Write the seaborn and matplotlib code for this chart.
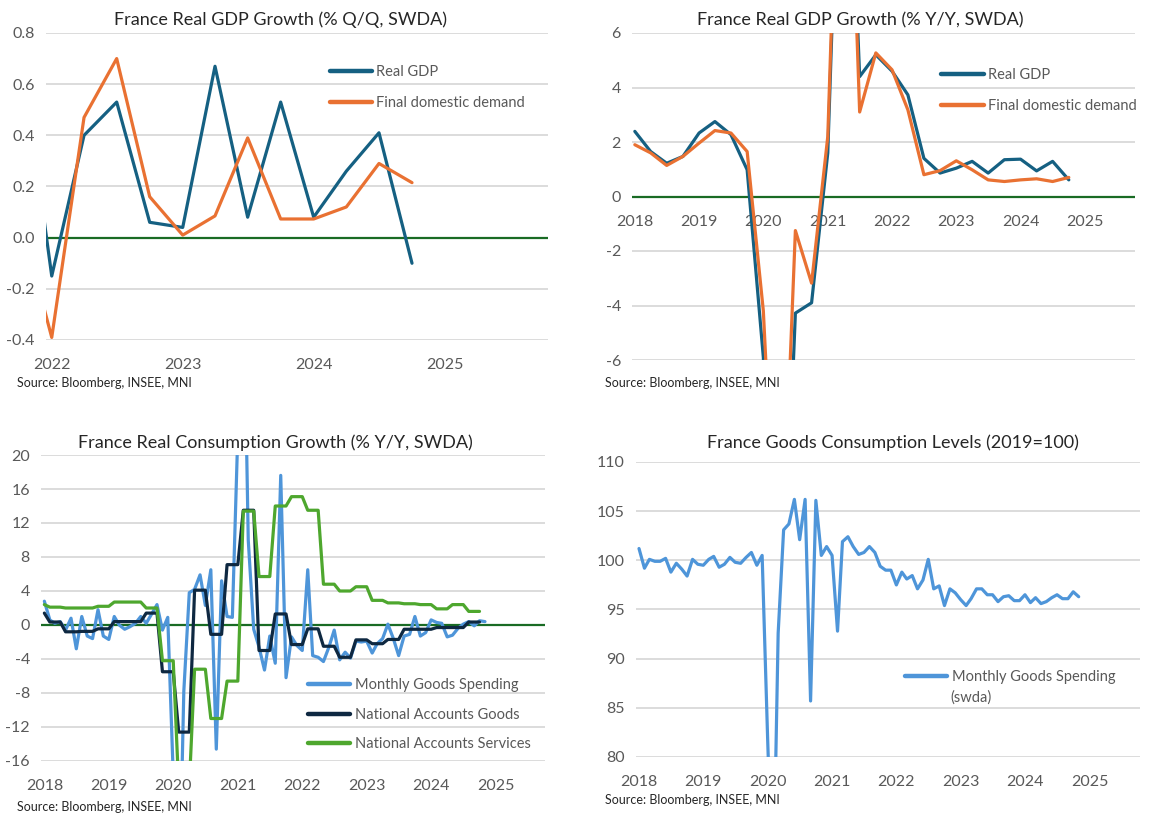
import pandas as pd
import numpy as np
import seaborn as sns
import matplotlib.pyplot as plt
import matplotlib.dates as mdates
from matplotlib.ticker import FuncFormatter

sns.set_theme(style="white")
plt.rcParams['font.family'] = ['Lato', 'DejaVu Sans']

# --- data ---
# Q/Q growth, quarters 2021Q4..2024Q4 (first point sits left of the axis)
qq_start = "2021-10-01"
gdp_qq = [0.80, -0.15, 0.40, 0.53, 0.06, 0.04, 0.67, 0.08, 0.53, 0.08, 0.26, 0.41, -0.10]
fdd_qq = [0.10, -0.39, 0.47, 0.70, 0.16, 0.01, 0.085, 0.39, 0.073, 0.073, 0.12, 0.29, 0.215]

# Y/Y growth, quarters 2018Q1..2024Q4
yy_start = "2018-01-01"
gdp_yy = [2.39, 1.65, 1.22, 1.47, 2.33, 2.75, 2.27, 0.98,
          -5.9, -18.6, -4.28, -3.9, 1.6, 19.0, 4.4, 5.2,
          4.6, 3.73, 1.4, 0.86, 1.04, 1.29, 0.86, 1.35,
          1.37, 0.94, 1.29, 0.61]
fdd_yy = [1.9, 1.6, 1.14, 1.47, 1.96, 2.42, 2.33, 1.65,
          -4.2, -16.0, -1.25, -3.18, 2.2, 20.0, 3.1, 5.27,
          4.65, 3.18, 0.8, 0.95, 1.31, 0.98, 0.61, 0.55,
          0.61, 0.65, 0.55, 0.70]

# monthly goods spending, Y/Y %
month_start = "2018-01-01"
goods_yy = [2.8, 0.6, 0.2, 0.4, -0.6, 0.8, -2.8, 1.0, -1.3, -1.6, 1.8, -1.3,
            -1.7, 1.0, 0.0, -0.5, -0.2, 0.2, 1.0, 0.2, 1.3, 2.4, -0.6, 0.9,
            -17.6, -35.0, -7.8, 3.8, 4.2, 5.9, 2.3, 6.5, -14.6, 5.2, 1.0, 0.9,
            22.6, 42.8, 10.0, -0.5, -2.6, -5.3, -1.3, -4.5, 17.6, -6.2, -1.4, -2.4,
            -3.0, 6.5, -3.6, -3.8, -4.3, -2.6, -0.6, -4.1, -3.2, -3.9, -1.9, -2.0,
            -1.9, -3.3, -2.2, -1.6, 0.1, -1.6, -3.6, -1.3, -1.1, 1.0, -1.3, -0.9,
            0.6, 0.3, 0.2, -1.4, -1.2, -0.4, 0.1, 0.4, -0.1, 0.5, 0.4]

# national accounts consumption Y/Y, quarterly 2018Q1..2024Q4 (shown as monthly steps)
na_goods_q = [1.4, 0.35, -0.8, -0.75, -0.45, 0.4, 0.4, 1.4,
              -5.5, -12.6, 4.1, -1.1, 7.1, 13.5, -3.0, 1.3,
              -2.3, -0.45, -2.5, -3.8, -1.75, -2.2, -1.7, -0.5,
              -0.5, -0.3, -0.3, 0.35]
na_serv_q = [2.4, 2.1, 2.0, 2.0, 2.2, 2.7, 2.7, 2.0,
             -4.2, -19.0, -5.2, -11.0, -6.6, 13.4, 5.7, 14.0,
             15.1, 13.5, 4.8, 4.0, 4.5, 2.9, 2.6, 2.5,
             2.4, 1.9, 2.4, 1.6]

# monthly goods consumption level, 2019=100
goods_lvl = [101.2, 99.2, 100.1, 99.9, 99.9, 100.2, 98.8, 99.7, 99.1, 98.4, 100.1, 99.6,
             99.5, 100.1, 100.4, 99.3, 99.6, 100.3, 99.8, 99.7, 100.3, 100.8, 99.5, 100.5,
             82.0, 65.0, 92.6, 103.1, 103.7, 106.2, 102.1, 106.2, 85.7, 106.1, 100.5, 101.4,
             100.5, 92.8, 101.9, 102.4, 101.4, 100.6, 100.8, 101.4, 100.8, 99.4, 99.0, 99.0,
             97.5, 98.8, 98.1, 98.45, 97.1, 98.0, 100.1, 97.1, 97.4, 95.4, 97.1, 96.7,
             96.0, 95.4, 96.1, 97.1, 97.1, 96.5, 96.5, 95.8, 96.3, 96.4, 95.9, 95.9,
             96.5, 95.7, 96.2, 95.6, 95.8, 96.2, 96.5, 96.1, 96.1, 96.8, 96.3]

SOURCE = "Source: Bloomberg, INSEE, MNI"
BLUE = "#156082"
ORANGE = "#E97132"
LIGHT = "#4E95D9"
NAVY = "#0E2841"
GREEN = "#4EA72E"
ZERO = "#196B24"
GREY = "#595959"
LW = 2.3

W, H = 1162, 815
fig = plt.figure(figsize=(W / 100, H / 100), dpi=100)


def add_axes(l, t, r, b):
    return fig.add_axes([l / W, 1 - b / H, (r - l) / W, (b - t) / H])


def style(ax, yticks, fmt, xstart, xend, years, legend_anchor, spacing):
    ax.set_ylim(yticks[0], yticks[-1])
    ax.set_yticks(yticks)
    ax.yaxis.set_major_formatter(FuncFormatter(fmt))
    ax.set_xlim(pd.Timestamp(xstart), pd.Timestamp(xend))
    ax.set_xticks([pd.Timestamp(f"{y}-01-01") for y in years])
    ax.xaxis.set_major_formatter(mdates.DateFormatter("%Y"))
    ax.grid(axis='y', color='#D9D9D9', lw=1.3)
    ax.grid(axis='x', visible=False)
    for s in ax.spines.values():
        s.set_visible(False)
    ax.tick_params(axis='both', length=0, labelsize=11.5, labelcolor=GREY)
    ax.tick_params(axis='x', pad=13)
    ax.tick_params(axis='y', pad=8)
    ax.set_xlabel("")
    ax.set_ylabel("")
    ax.axhline(0, color=ZERO, lw=1.6, zorder=1.5)
    leg = ax.legend(loc='upper left', bbox_to_anchor=legend_anchor, frameon=False,
                    fontsize=10.5, handlelength=2.9, handletextpad=0.3,
                    labelspacing=spacing, borderpad=0, borderaxespad=0)
    for t in leg.get_texts():
        t.set_color(GREY)
    for h in leg.get_lines():
        h.set_linewidth(3.2)
    return leg


# ---- top left: Q/Q ----
ax1 = add_axes(46, 33, 548, 340)
qq_dates = pd.date_range(qq_start, periods=len(gdp_qq), freq="QS")
sns.lineplot(x=qq_dates, y=gdp_qq, ax=ax1, color=BLUE, lw=LW, label="Real GDP")
sns.lineplot(x=qq_dates, y=fdd_qq, ax=ax1, color=ORANGE, lw=LW, label="Final domestic demand")
style(ax1, np.round(np.arange(-0.4, 0.81, 0.2), 1), lambda v, p: f"{v:.1f}",
      "2021-12-16", "2025-10-15", range(2022, 2026), (0.565, 0.895), 1.15)
fig.text(280 / W, 1 - 20 / H, "France Real GDP Growth (% Q/Q, SWDA)", ha='center', va='center', fontsize=13)
fig.text(17 / W, 1 - 383 / H, SOURCE, ha='left', va='center', fontsize=9)

# ---- top right: Y/Y ----
ax2 = add_axes(632, 33, 1135, 360)
yy_dates = pd.date_range(yy_start, periods=len(gdp_yy), freq="QS")
sns.lineplot(x=yy_dates, y=gdp_yy, ax=ax2, color=BLUE, lw=LW, label="Real GDP")
sns.lineplot(x=yy_dates, y=fdd_yy, ax=ax2, color=ORANGE, lw=LW, label="Final domestic demand")
style(ax2, list(range(-6, 7, 2)), lambda v, p: f"{v:.0f}",
      "2017-12-16", "2025-10-12", range(2018, 2026), (0.615, 0.893), 1.15)
ax2.spines['bottom'].set_position(('data', 0))
fig.text(860 / W, 1 - 20 / H, "France Real GDP Growth (% Y/Y, SWDA)", ha='center', va='center', fontsize=13)
fig.text(605 / W, 1 - 383 / H, SOURCE, ha='left', va='center', fontsize=9)

# ---- bottom left: consumption Y/Y ----
ax3 = add_axes(41, 455, 545, 761)
m_dates = pd.date_range(month_start, periods=len(goods_yy), freq="MS")
na_goods_m = np.repeat(na_goods_q, 3)[2:]
na_serv_m = np.repeat(na_serv_q, 3)[2:]
sns.lineplot(x=m_dates, y=goods_yy, ax=ax3, color=LIGHT, lw=LW, label="Monthly Goods Spending")
sns.lineplot(x=m_dates[:len(na_goods_m)], y=na_goods_m, ax=ax3, color=NAVY, lw=LW, label="National Accounts Goods")
sns.lineplot(x=m_dates[:len(na_serv_m)], y=na_serv_m, ax=ax3, color=GREEN, lw=LW, label="National Accounts Services")
style(ax3, list(range(-16, 21, 4)), lambda v, p: f"{v:.0f}",
      "2017-12-13", "2025-10-07", range(2018, 2026), (0.53, 0.271), 1.07)
fig.text(275 / W, 1 - 443 / H, "France Real Consumption Growth (% Y/Y, SWDA)", ha='center', va='center', fontsize=13)
fig.text(17 / W, 1 - 807 / H, SOURCE, ha='left', va='center', fontsize=9)

# ---- bottom right: goods levels ----
ax4 = add_axes(636, 462, 1140, 757)
sns.lineplot(x=m_dates[:len(goods_lvl)], y=goods_lvl, ax=ax4, color=LIGHT, lw=LW, label="Monthly Goods Spending")
style(ax4, list(range(80, 111, 5)), lambda v, p: f"{v:.0f}",
      "2017-12-15", "2025-10-15", range(2018, 2026), (0.534, 0.296), 0.8)
ax4.lines[-1].set_visible(False)  # no zero line on a level chart
ax4.text(0.623, 0.2, "(swda)", transform=ax4.transAxes, ha='left', va='center', fontsize=10.5, color=GREY)
fig.text(893 / W, 1 - 443 / H, "France Goods Consumption Levels (2019=100)", ha='center', va='center', fontsize=13)
fig.text(605 / W, 1 - 800 / H, SOURCE, ha='left', va='center', fontsize=9)

fig.savefig("out.png", dpi=100, facecolor="white")
